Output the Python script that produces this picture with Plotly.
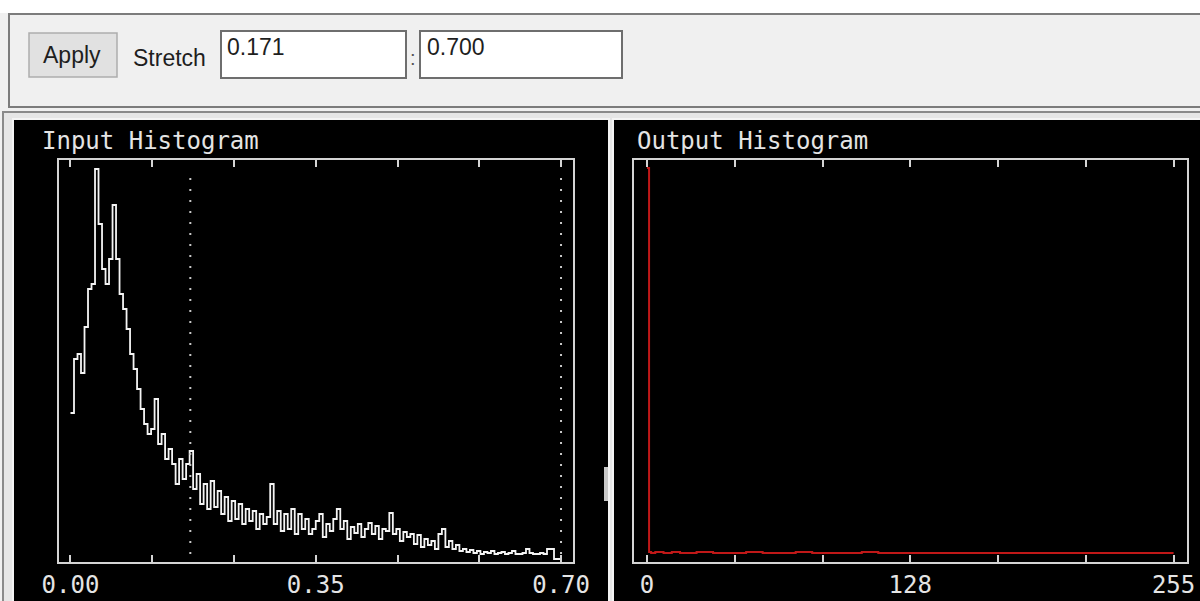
import plotly.graph_objects as go

W, H = 1200, 601

# ---------------- data ----------------
stretch_min = 0.171
stretch_max = 0.700
in_bin_width = 0.005
in_counts = [
    146, 200, 205, 186, 232, 270, 275, 390, 335, 290,
    275, 300, 354, 300, 265, 250, 230, 205, 190, 170,
    150, 135, 125, 130, 160, 115, 125, 100, 110, 95,
    75, 100, 80, 95, 108, 70, 85, 55, 75, 50,
    78, 52, 68, 45, 62, 38, 58, 40, 55, 35,
    50, 38, 48, 30, 45, 35, 42, 75, 35, 48,
    28, 45, 30, 50, 25, 45, 30, 40, 25, 30,
    38, 45, 22, 35, 28, 40, 50, 30, 38, 20,
    32, 26, 35, 22, 30, 36, 25, 33, 20, 30,
    28, 46, 25, 30, 18, 27, 22, 25, 15, 24,
    12, 20, 14, 18, 10, 25, 30, 12, 18, 10,
    14, 8, 10, 7, 9, 6, 8, 5, 7, 6,
    8, 5, 6, 7, 5, 6, 8, 5, 5, 6,
    10, 6, 5, 5, 6, 5, 10, 10, 0, 0,
]
in_ticks = [0.0, 0.35, 0.70]
in_tick_labels = ["0.00", "0.35", "0.70"]

out_levels = [0, 1, 2, 4, 8, 12, 16, 24, 32, 40, 48, 56, 64, 72, 80, 88, 96,
              104, 112, 120, 128, 136, 144, 160, 176, 192, 208, 224, 240, 255]
out_counts = [391, 7, 6, 7, 6, 7, 6, 7, 6, 6, 7, 6, 6, 7, 6, 6, 6,
              7, 6, 6, 6, 6, 6, 6, 6, 6, 6, 6, 6, 6]
out_ticks = [0, 128, 255]
out_tick_labels = ["0", "128", "255"]

# ---------------- helpers ----------------
def px(x):
    return x / W

def py(y):
    return 1 - y / H

def rect(x0, y0, x1, y1, fill, line=None, lw=0, layer="below"):
    return dict(type="rect", xref="paper", yref="paper",
                x0=px(x0), x1=px(x1), y0=py(y1), y1=py(y0),
                fillcolor=fill, layer=layer, line=dict(width=lw, color=line or fill))

# ---------------- traces ----------------
edges = [i * in_bin_width for i in range(len(in_counts) + 1)]
in_y = in_counts + [in_counts[-1]]

fig = go.Figure()
fig.add_trace(go.Scatter(x=edges, y=in_y, mode="lines", line_shape="hv",
                         line=dict(color="#f4f4f4", width=1.8),
                         xaxis="x", yaxis="y", showlegend=False, hoverinfo="skip"))
fig.add_trace(go.Scatter(x=out_levels, y=out_counts, mode="lines", line_shape="hv",
                         line=dict(color="#c01818", width=2),
                         xaxis="x2", yaxis="y2", showlegend=False, hoverinfo="skip"))

frame_col = "#d4d4d4"
hershey = dict(family="DejaVu Sans Mono", size=24, color="#e4e4e4")

def tick_positions(lo, hi, n=6):
    return [lo + (hi - lo) * k / n for k in range(n + 1)]

def xaxis_cfg(domain, rng, lo, hi, ticks, labels, anchor):
    tv = tick_positions(lo, hi)
    step = (hi - lo) / 6
    tt = []
    for v in tv:
        lab = ""
        for t, l in zip(ticks, labels):
            if abs(v - t) < 0.1 * step:
                lab = l
        tt.append(lab)
    return dict(domain=domain, range=rng, anchor=anchor, automargin=False,
                showgrid=False, zeroline=False,
                showline=True, linecolor=frame_col, linewidth=2, mirror="allticks",
                ticks="inside", ticklen=7, tickwidth=2, tickcolor=frame_col,
                tickvals=tv, ticktext=tt, tickfont=hershey, fixedrange=True)

def yaxis_cfg(anchor, rng):
    return dict(domain=[py(562), py(160)], range=rng, anchor=anchor, automargin=False,
                showgrid=False, zeroline=False, showline=True, linecolor=frame_col,
                linewidth=2, mirror=True, showticklabels=False, ticks="", fixedrange=True)

shapes = [
    rect(0, 0, 1200, 13, "#ffffff"),
    rect(9, 14, 1210, 107, "#f0f0f0", "#7c7c7c", 2),
    rect(29, 33, 117, 77, "#e1e1e1", "#adadad", 1.5),
    rect(221, 31, 406, 78, "#ffffff", "#6e6e6e", 2),
    rect(420, 31, 622, 78, "#ffffff", "#6e6e6e", 2),
    rect(3, 112, 1210, 605, "#e6e6e6", "#8a8a8a", 2),
    rect(13, 119, 609, 605, "#000000", "#f4f4f4", 2),
    rect(613, 119, 1210, 605, "#000000", "#f4f4f4", 2),
    rect(604, 467, 608, 501, "#c8c8c8"),
    dict(type="line", xref="x", yref="y domain", x0=stretch_min, x1=stretch_min,
         y0=0.02, y1=0.955, line=dict(color="#c8c8c8", width=2, dash="2px,9px"), layer="above"),
    dict(type="line", xref="x", yref="y domain", x0=stretch_max, x1=stretch_max,
         y0=0.02, y1=0.955, line=dict(color="#c8c8c8", width=2, dash="2px,9px"), layer="above"),
]

ui_font = dict(family="Liberation Sans", size=23, color="#1e1e1e")
annotations = [
    dict(text="Apply", x=px(72), y=py(55), xref="paper", yref="paper",
         showarrow=False, xanchor="center", yanchor="middle", font=ui_font),
    dict(text="Stretch", x=px(131), y=py(58), xref="paper", yref="paper",
         showarrow=False, xanchor="left", yanchor="middle", font=ui_font),
    dict(text=f"{stretch_min:.3f}", x=px(225), y=py(47), xref="paper", yref="paper",
         showarrow=False, xanchor="left", yanchor="middle", font=ui_font),
    dict(text=":", x=px(413), y=py(58), xref="paper", yref="paper",
         showarrow=False, xanchor="center", yanchor="middle",
         font=dict(family="Liberation Sans", size=20, color="#555555")),
    dict(text=f"{stretch_max:.3f}", x=px(425), y=py(47), xref="paper", yref="paper",
         showarrow=False, xanchor="left", yanchor="middle", font=ui_font),
    dict(text="Input Histogram", x=px(40), y=py(141), xref="paper", yref="paper",
         showarrow=False, xanchor="left", yanchor="middle", font=hershey),
    dict(text="Output Histogram", x=px(635), y=py(141), xref="paper", yref="paper",
         showarrow=False, xanchor="left", yanchor="middle", font=hershey),
]

fig.update_layout(
    template="none",
    width=W, height=H, margin=dict(l=0, r=0, t=0, b=0, pad=0),
    paper_bgcolor="#f0f0f0", plot_bgcolor="#000000",
    xaxis=xaxis_cfg([px(59), px(573)], [-0.0164, 0.7171], 0.0, 0.70,
                    in_ticks, in_tick_labels, "y"),
    yaxis=yaxis_cfg("x", [-3, 399]),
    xaxis2=xaxis_cfg([px(634), px(1187)], [-6.3, 261.5], 0, 255,
                     out_ticks, out_tick_labels, "y2"),
    yaxis2=yaxis_cfg("x2", [-3, 399]),
    shapes=shapes, annotations=annotations, showlegend=False,
)

fig.write_html("out.html",
               config={"displayModeBar": False},
               post_script="document.body.style.margin='0px';document.body.style.overflow='hidden';")
